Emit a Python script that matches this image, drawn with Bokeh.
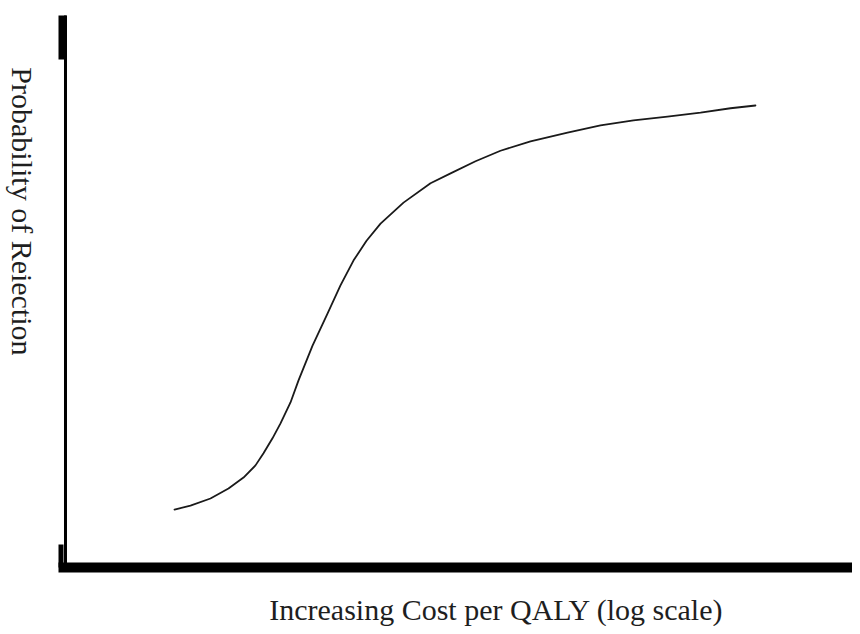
import math
from bokeh.plotting import figure
from bokeh.models import Range1d, BoxAnnotation, Label
from bokeh.embed import file_html
from bokeh.resources import INLINE

# Data (x: position along log cost scale, arbitrary 0-100; y: probability of rejection, 0-1)
cost_log = [13.85, 15.88, 18.42, 20.71, 22.62, 24.14, 25.16, 26.30, 27.32, 28.59,
            29.61, 31.39, 33.29, 34.94, 36.59, 38.25, 40.03, 42.95, 46.38, 48.93,
            52.10, 55.27, 59.09, 63.79, 67.98, 72.17, 76.49, 80.69, 84.50, 87.67]
p_reject = [0.105, 0.112, 0.125, 0.143, 0.163, 0.185, 0.207, 0.234, 0.261, 0.299,
            0.339, 0.402, 0.460, 0.511, 0.556, 0.592, 0.623, 0.661, 0.696, 0.714,
            0.736, 0.755, 0.772, 0.788, 0.801, 0.810, 0.817, 0.824, 0.832, 0.837]

x_label = "Increasing Cost per QALY (log scale)"
y_label = "Probability of Reiection"

# view extents (whole canvas is the plotting frame)
X0, X1 = -8.259, 100.0
Y0, Y1 = -0.1069, 1.0272
PXX = 7.87    # pixels per x unit
PXY = 552.0   # pixels per y unit
FONT = "Liberation Serif"

p = figure(width=852, height=626,
           x_range=Range1d(X0, X1), y_range=Range1d(Y0, Y1),
           output_backend="svg", toolbar_location=None,
           min_border=0)
p.axis.visible = False
p.grid.visible = False
p.outline_line_color = None
p.background_fill_color = "white"
p.border_fill_color = "white"

def box(l, r, b, t):
    p.add_layout(BoxAnnotation(left=l, right=r, bottom=b, top=t,
                               fill_color="black", fill_alpha=1, line_color=None))

# axes: heavy horizontal axis, thin vertical axis with heavy end pieces
box(-7 / PXX, X1, -5 / PXY, 5 / PXY)
box(-1.5 / PXX, 1.5 / PXX, 0, 1.0)
box(-7 / PXX, 1 / PXX, 1.0 - 44 / PXY, 1.0)
box(-7 / PXX, -2 / PXX, 0, 23 / PXY)

p.line(cost_log, p_reject, line_color="#1a1a1a", line_width=1.8,
       line_join="round", line_cap="round")

p.add_layout(Label(x=54.75, y=-0.0761, text=x_label,
                   text_font=FONT, text_font_size="30px", text_color="#1e1e1e",
                   text_align="center", text_baseline="middle"))
p.add_layout(Label(x=-5.46, y=0.645, text=y_label,
                   text_font=FONT, text_font_size="30px", text_color="#1e1e1e",
                   angle=-math.pi / 2, text_align="center", text_baseline="middle"))

open("out.html", "w").write(file_html(p, INLINE))
